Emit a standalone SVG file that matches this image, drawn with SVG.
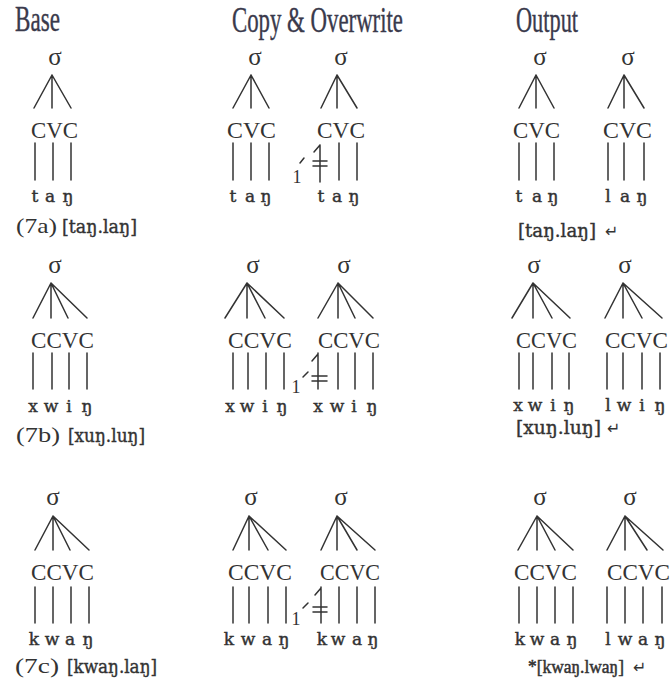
<svg xmlns="http://www.w3.org/2000/svg" width="670" height="685" viewBox="0 0 670 685">
<style>
.ln{stroke:#333;stroke-width:1.5;fill:none;stroke-linecap:round}
.ttl{font-family:"Liberation Serif",serif;font-size:36px;fill:#3a3a4c;stroke:#3a3a4c;stroke-width:0.4}
.sig{font-family:"Liberation Serif",serif;font-size:25px;fill:#333;text-anchor:middle}
.cv{font-family:"Liberation Serif",serif;font-size:23px;fill:#333}
.seg{font-family:"DejaVu Serif",serif;font-size:17px;fill:#333;stroke:#333;stroke-width:0.45;text-anchor:middle}
.lab{font-family:"Liberation Serif",serif;font-size:21px;fill:#333}
.ipa{font-family:"DejaVu Serif",serif;font-size:19px;fill:#333;stroke:#333;stroke-width:0.4}
.ipa2{font-family:"Liberation Serif",serif;font-size:19px;fill:#333;stroke:#333;stroke-width:0.5}
.one{font-family:"Liberation Serif",serif;font-size:18px;fill:#333;text-anchor:middle}
.ret{font-family:"DejaVu Sans",sans-serif;font-size:16px;fill:#333;stroke:none}
</style>
<rect width="670" height="685" fill="#fff"/>

<g id="titles">
<text class="ttl" x="15" y="31" textLength="45" lengthAdjust="spacingAndGlyphs">Base</text>
<text class="ttl" x="232" y="32" textLength="171" lengthAdjust="spacingAndGlyphs">Copy &amp; Overwrite</text>
<text class="ttl" x="516" y="32" textLength="62" lengthAdjust="spacingAndGlyphs">Output</text>
</g>

<g id="connectors">
<!-- row 1 -->
<path class="ln" d="M52 75L34 108M52 75V108M52 75L71 108M35 143V180M53 143V180M71 143V180"/>
<path class="ln" d="M251 75L233 108M251 75V108M251 75L269 108M233 143V180M251 143V180M269 143V180"/>
<path class="ln" d="M337 75L321 108M337 75V108M337 75L357 108M339 143V180M357 143V180"/>
<path class="ln" d="M536 75L519 108M536 75V108M536 75L554 108M519 143V180M536 143V180M554 143V180"/>
<path class="ln" d="M624 75L608 108M624 75V108M624 75L644 108M608 143V180M624 143V180M644 143V180"/>
<!-- row 2 -->
<path class="ln" d="M51 283L33 318M51 283V318M51 283L68 318M51 283L87 318M33 353V389M52 353V389M69 353V389M87 353V389"/>
<path class="ln" d="M247 283L225 318M247 283V318M247 283L265 318M247 283L284 318M233 353V389M248 353V389M266 353V389M284 353V389"/>
<path class="ln" d="M338 283L318 318M338 283V318M338 283L355 318M338 283L373 318M338 353V389M355 353V389M373 353V389"/>
<path class="ln" d="M533 283L512 318M533 283V318M533 283L552 318M533 283L570 318M519 353V389M533 353V389M552 353V389M569 353V389"/>
<path class="ln" d="M623 283L605 318M623 283V318M623 283L642 318M623 283L662 318M607 353V389M623 353V389M642 353V389M660 353V389"/>
<!-- row 3 -->
<path class="ln" d="M53 516L35 550M53 516V550M53 516L70 550M53 516L89 550M35 587V623M53 587V623M71 587V623M89 587V623"/>
<path class="ln" d="M249 516L233 550M249 516V550M249 516L268 550M249 516L286 550M233 587V623M249 587V623M268 587V623M286 587V623"/>
<path class="ln" d="M337 516L321 550M337 516V550M337 516L357 550M337 516L375 550M339 587V623M357 587V623M375 587V623"/>
<path class="ln" d="M537 516L518 550M537 516V550M537 516L555 550M537 516L573 550M519 587V623M537 587V623M555 587V623M573 587V623"/>
<path class="ln" d="M625 516L607 550M625 516V550M625 516L647 550M625 516L663 550M607 587V623M625 587V623M643 587V623M662 587V623"/>
<!-- overwrite marks -->
<path class="ln" d="M320 145V182M320 145L314 152M313 161H327M313 166H327M300 163L304 158"/>
<path class="ln" d="M318 353V389M318 354L312 361M312 376H327M312 381H327M303 377L308 372"/>
<path class="ln" d="M321 587V623M321 588L315 595M313 607H327M313 612H327M303 608L308 603"/>
</g>

<g id="tree-7a-base">
<text class="sig" x="55" y="65">σ</text>
<text class="cv" x="31" y="138" textLength="47" lengthAdjust="spacingAndGlyphs">CVC</text>
<text class="seg" y="202"><tspan x="35">t</tspan><tspan x="50">a</tspan><tspan x="68">ŋ</tspan></text>
</g>
<g id="tree-7a-copy1">
<text class="sig" x="255" y="65">σ</text>
<text class="cv" x="227" y="138" textLength="49" lengthAdjust="spacingAndGlyphs">CVC</text>
<text class="seg" y="202"><tspan x="233">t</tspan><tspan x="250">a</tspan><tspan x="266">ŋ</tspan></text>
</g>
<g id="tree-7a-copy2">
<text class="sig" x="341" y="65">σ</text>
<text class="cv" x="317" y="138" textLength="48" lengthAdjust="spacingAndGlyphs">CVC</text>
<text class="seg" y="202"><tspan x="321">t</tspan><tspan x="337">a</tspan><tspan x="354">ŋ</tspan></text>
<text class="one" x="297" y="183">1</text>
</g>
<g id="tree-7a-out1">
<text class="sig" x="540" y="65">σ</text>
<text class="cv" x="513" y="138" textLength="47" lengthAdjust="spacingAndGlyphs">CVC</text>
<text class="seg" y="202"><tspan x="519">t</tspan><tspan x="537">a</tspan><tspan x="553">ŋ</tspan></text>
</g>
<g id="tree-7a-out2">
<text class="sig" x="628" y="65">σ</text>
<text class="cv" x="603" y="138" textLength="49" lengthAdjust="spacingAndGlyphs">CVC</text>
<text class="seg" y="202"><tspan x="608">l</tspan><tspan x="625">a</tspan><tspan x="642">ŋ</tspan></text>
</g>

<g id="tree-7b-base">
<text class="sig" x="55" y="273">σ</text>
<text class="cv" x="31" y="348" textLength="63" lengthAdjust="spacingAndGlyphs">CCVC</text>
<text class="seg" y="412"><tspan x="33">x</tspan><tspan x="51">w</tspan><tspan x="69">i</tspan><tspan x="87">ŋ</tspan></text>
</g>
<g id="tree-7b-copy1">
<text class="sig" x="253" y="273">σ</text>
<text class="cv" x="228" y="348" textLength="64" lengthAdjust="spacingAndGlyphs">CCVC</text>
<text class="seg" y="412"><tspan x="230">x</tspan><tspan x="247">w</tspan><tspan x="265">i</tspan><tspan x="282">ŋ</tspan></text>
</g>
<g id="tree-7b-copy2">
<text class="sig" x="344" y="273">σ</text>
<text class="cv" x="318" y="348" textLength="62" lengthAdjust="spacingAndGlyphs">CCVC</text>
<text class="seg" y="412"><tspan x="318">x</tspan><tspan x="337">w</tspan><tspan x="354">i</tspan><tspan x="372">ŋ</tspan></text>
<text class="one" x="296" y="393">1</text>
</g>
<g id="tree-7b-out1">
<text class="sig" x="534" y="273">σ</text>
<text class="cv" x="516" y="348" textLength="61" lengthAdjust="spacingAndGlyphs">CCVC</text>
<text class="seg" y="411"><tspan x="518">x</tspan><tspan x="535">w</tspan><tspan x="553">i</tspan><tspan x="569">ŋ</tspan></text>
</g>
<g id="tree-7b-out2">
<text class="sig" x="625" y="273">σ</text>
<text class="cv" x="605" y="348" textLength="63" lengthAdjust="spacingAndGlyphs">CCVC</text>
<text class="seg" y="411"><tspan x="608">l</tspan><tspan x="624">w</tspan><tspan x="642">i</tspan><tspan x="660">ŋ</tspan></text>
</g>

<g id="tree-7c-base">
<text class="sig" x="53" y="505">σ</text>
<text class="cv" x="31" y="580" textLength="63" lengthAdjust="spacingAndGlyphs">CCVC</text>
<text class="seg" y="645"><tspan x="34">k</tspan><tspan x="52">w</tspan><tspan x="70">a</tspan><tspan x="88">ŋ</tspan></text>
</g>
<g id="tree-7c-copy1">
<text class="sig" x="251" y="505">σ</text>
<text class="cv" x="228" y="580" textLength="64" lengthAdjust="spacingAndGlyphs">CCVC</text>
<text class="seg" y="645"><tspan x="229">k</tspan><tspan x="248">w</tspan><tspan x="267">a</tspan><tspan x="284">ŋ</tspan></text>
</g>
<g id="tree-7c-copy2">
<text class="sig" x="341" y="505">σ</text>
<text class="cv" x="320" y="580" textLength="60" lengthAdjust="spacingAndGlyphs">CCVC</text>
<text class="seg" y="645"><tspan x="322">k</tspan><tspan x="338">w</tspan><tspan x="357">a</tspan><tspan x="373">ŋ</tspan></text>
<text class="one" x="296" y="625">1</text>
</g>
<g id="tree-7c-out1">
<text class="sig" x="540" y="505">σ</text>
<text class="cv" x="514" y="580" textLength="63" lengthAdjust="spacingAndGlyphs">CCVC</text>
<text class="seg" y="645"><tspan x="520">k</tspan><tspan x="537">w</tspan><tspan x="555">a</tspan><tspan x="572">ŋ</tspan></text>
</g>
<g id="tree-7c-out2">
<text class="sig" x="630" y="505">σ</text>
<text class="cv" x="607" y="580" textLength="63" lengthAdjust="spacingAndGlyphs">CCVC</text>
<text class="seg" y="645"><tspan x="608">l</tspan><tspan x="625">w</tspan><tspan x="643">a</tspan><tspan x="660">ŋ</tspan></text>
</g>

<g id="labels">
<text class="lab" x="16" y="233"><tspan textLength="41" lengthAdjust="spacingAndGlyphs">(7a)</tspan><tspan class="ipa" x="62" textLength="75" lengthAdjust="spacingAndGlyphs">[taŋ.laŋ]</tspan></text>
<text class="lab" x="16" y="442"><tspan textLength="44" lengthAdjust="spacingAndGlyphs">(7b)</tspan><tspan class="ipa" x="68" textLength="77" lengthAdjust="spacingAndGlyphs">[xuŋ.luŋ]</tspan></text>
<text class="lab" x="15" y="673"><tspan textLength="44" lengthAdjust="spacingAndGlyphs">(7c)</tspan><tspan class="ipa" x="67" textLength="90" lengthAdjust="spacingAndGlyphs">[kwaŋ.laŋ]</tspan></text>
<text y="237"><tspan class="ipa" x="518" textLength="78" lengthAdjust="spacingAndGlyphs">[taŋ.laŋ]</tspan><tspan class="ret" x="605">↵</tspan></text>
<text y="434"><tspan class="ipa" x="516" textLength="85" lengthAdjust="spacingAndGlyphs">[xuŋ.luŋ]</tspan><tspan class="ret" x="607">↵</tspan></text>
<text y="673"><tspan class="ipa2" x="528" textLength="96" lengthAdjust="spacingAndGlyphs">*[kwaŋ.lwaŋ]</tspan><tspan class="ret" x="633">↵</tspan></text>
</g>
</svg>
